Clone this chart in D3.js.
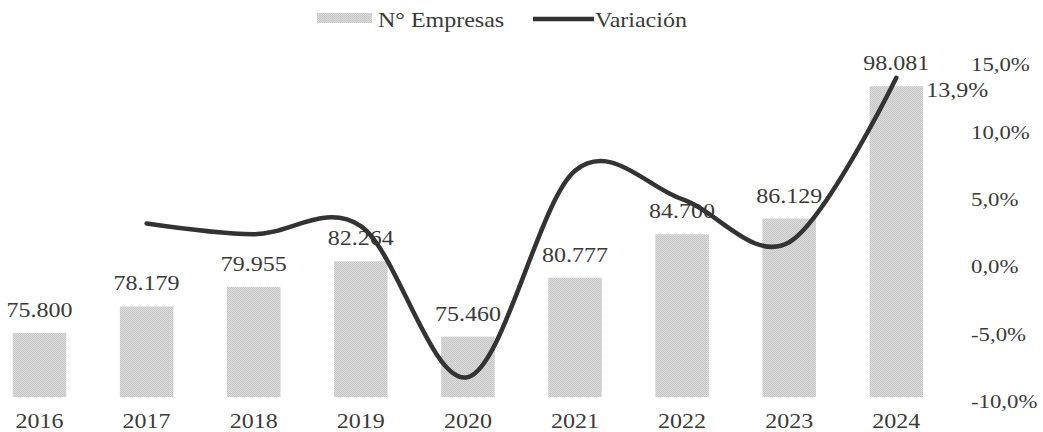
<!DOCTYPE html>
<html>
<head>
<meta charset="utf-8">
<script src="https://cdn.jsdelivr.net/npm/d3@7"></script>
<style>
  html,body{margin:0;padding:0;background:#fff;}
  svg{display:block;}
  text{font-family:"Liberation Serif","Times New Roman",serif;fill:#3a3a3a;}
</style>
</head>
<body>
<svg id="chart" width="1043" height="432"></svg>
<script>
const years = ["2016","2017","2018","2019","2020","2021","2022","2023","2024"];
const empresas = [75800, 78179, 79955, 82264, 75460, 80777, 84700, 86129, 98081];
const variacionYears = ["2017","2018","2019","2020","2021","2022","2023","2024"];
const variacion = [3.1, 2.3, 2.9, -8.3, 7.0, 4.9, 1.7, 13.9];
const rightTicks = [15, 10, 5, 0, -5, -10];
const legendLabels = ["N° Empresas", "Variación"];

const SX = 1.2; // horizontal stretch of text in the reference
const svg = d3.select("#chart");

const defs = svg.append("defs");
const pat = defs.append("pattern").attr("id","stip").attr("patternUnits","userSpaceOnUse")
  .attr("width",2).attr("height",2);
pat.append("rect").attr("width",2).attr("height",2).attr("fill","#dcdcdc");
pat.append("rect").attr("width",1).attr("height",1).attr("fill","#c4c4c4");
pat.append("rect").attr("x",1).attr("y",1).attr("width",1).attr("height",1).attr("fill","#c8c8c8");

const x = d3.scaleBand().domain(years).range([-14.05, 949.85]).paddingInner(0.5).paddingOuter(0.25);
const yL = d3.scaleLinear().domain([70000, 100000]).range([397, 65]);
const yR = d3.scaleLinear().domain([-10, 15]).range([400, 63]);

const loc = d3.formatLocale({decimal:",", thousands:".", grouping:[3], currency:["",""], minus:"-"});
const fmtN = loc.format(",d");
const fmtP = v => loc.format(".1f")(v) + "%";

// bars
svg.append("g").selectAll("rect").data(years).join("rect")
  .attr("x", d => x(d))
  .attr("width", x.bandwidth())
  .attr("y", (d,i) => yL(empresas[i]))
  .attr("height", (d,i) => yL.range()[0] - yL(empresas[i]))
  .attr("fill", "url(#stip)");

// bar labels
svg.append("g").selectAll("text").data(years).join("text")
  .attr("transform", (d,i) => `translate(${x(d) + x.bandwidth()/2},${yL(empresas[i]) - 16}) scale(${SX},1)`)
  .attr("text-anchor","middle")
  .style("font-size","20px")
  .text((d,i) => fmtN(empresas[i]));

// line
const line = d3.line()
  .x(d => x(d[0]) + x.bandwidth()/2)
  .y(d => yR(d[1]))
  .curve(d3.curveCatmullRom.alpha(0));
const pts = variacionYears.map((d,i) => [d, variacion[i]]);
svg.append("path").datum(pts)
  .attr("d", line)
  .attr("fill","none")
  .attr("stroke","#333")
  .attr("stroke-width",4.5)
  .attr("stroke-linecap","round");

// last line label
const last = pts[pts.length-1];
svg.append("text")
  .attr("transform", `translate(${x(last[0]) + x.bandwidth()/2 + 30},${yR(last[1]) + 19}) scale(${SX},1)`)
  .style("font-size","20px")
  .text(fmtP(last[1]));

// x axis
const gx = svg.append("g").attr("transform","translate(0,397)")
  .call(d3.axisBottom(x).tickSize(0));
gx.select(".domain").remove();
gx.selectAll("text")
  .attr("y", null).attr("dy", null)
  .attr("transform", `translate(0,31) scale(${SX},1)`)
  .style("font-size","20px")
  .style("font-family","'Liberation Serif',serif")
  .attr("fill","#3a3a3a");

// right axis
const gr = svg.append("g").attr("transform","translate(971,0)")
  .call(d3.axisRight(yR).tickValues(rightTicks).tickFormat(fmtP).tickSize(0));
gr.select(".domain").remove();
gr.selectAll("text")
  .attr("x", 0)
  .attr("dy", "0.4em")
  .attr("transform", `scale(${SX},1)`)
  .attr("text-anchor","start")
  .style("font-size","19px")
  .style("font-family","'Liberation Serif',serif")
  .attr("fill","#3a3a3a");

// legend
const lg = svg.append("g");
lg.append("rect").attr("x",317).attr("y",13).attr("width",55).attr("height",10).attr("fill","url(#stip)");
lg.append("text").attr("transform",`translate(378,27) scale(${SX},1)`).style("font-size","20px").text(legendLabels[0]);
lg.append("line").attr("x1",533).attr("x2",594).attr("y1",19).attr("y2",19)
  .attr("stroke","#333").attr("stroke-width",4.5);
lg.append("text").attr("transform",`translate(595,27) scale(${SX},1)`).style("font-size","20px").text(legendLabels[1]);
</script>
</body>
</html>
